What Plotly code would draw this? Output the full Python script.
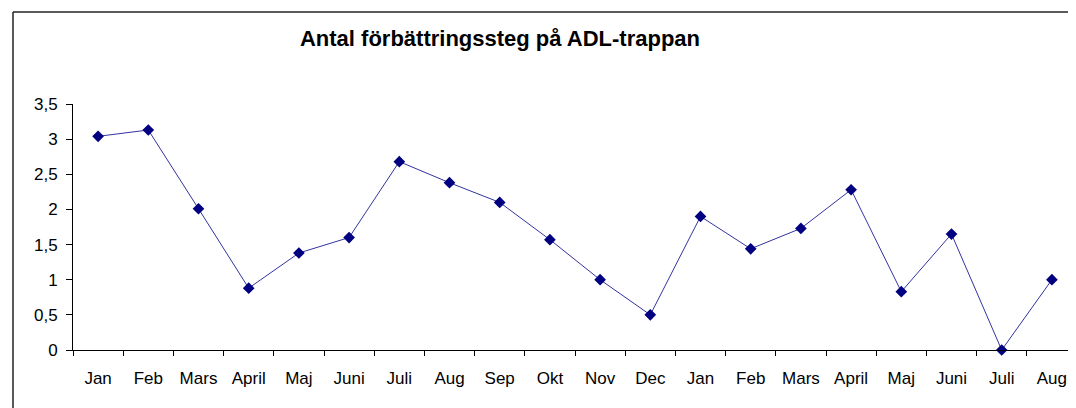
import plotly.graph_objects as go

months = ["Jan", "Feb", "Mars", "April", "Maj", "Juni", "Juli", "Aug", "Sep", "Okt",
          "Nov", "Dec", "Jan", "Feb", "Mars", "April", "Maj", "Juni", "Juli", "Aug"]
values = [3.04, 3.13, 2.01, 0.88, 1.38, 1.60, 2.68, 2.38, 2.10, 1.57,
          1.00, 0.50, 1.90, 1.44, 1.73, 2.28, 0.83, 1.65, 0.00, 1.00]
y_ticks = [0, 0.5, 1, 1.5, 2, 2.5, 3, 3.5]
y_tick_text = ["0", "0,5", "1", "1,5", "2", "2,5", "3", "3,5"]

positions = list(range(len(months)))

fig = go.Figure()
fig.add_trace(go.Scatter(
    x=positions, y=values, mode="lines+markers",
    line=dict(color="#3333a0", width=1),
    marker=dict(symbol="diamond", size=9, color="#000080"),
    cliponaxis=False, showlegend=False,
))

# page has an 8px body margin; figure drawn at offset (8, 8)
OFF = 8
W, H = 1076 - OFF, 408 - OFF
L, R, T = 73 - OFF, 0, 104 - OFF
B = H - (350 - OFF)
pw, ph = W - L - R, H - T - B

fig.update_layout(
    width=W, height=H,
    margin=dict(l=L, r=R, t=T, b=B, pad=0),
    paper_bgcolor="white", plot_bgcolor="white",
    font=dict(family="Liberation Sans, Arial", size=17, color="#000000"),
    title=dict(text="<b>Antal förbättringssteg på ADL-trappan</b>",
               x=(500 - OFF) / W, xanchor="center", y=1 - (38 - OFF) / H, yanchor="middle",
               font=dict(size=22, color="#000000")),
    xaxis=dict(
        range=[-0.5, -0.5 + pw / 50.2], tickmode="array", tickvals=positions,
        ticktext=months, ticks="", showgrid=False, zeroline=False,
        showline=True, linecolor="#000000", linewidth=1, ticklabelstandoff=13,
        minor=dict(tickmode="linear", tick0=0.5, dtick=1, ticks="outside",
                   ticklen=5, tickcolor="#000000", showgrid=False),
        fixedrange=True,
    ),
    yaxis=dict(
        range=[0, 3.5], tickmode="array", tickvals=y_ticks, ticktext=y_tick_text,
        ticks="outside", ticklen=6, tickcolor="#000000", showgrid=False,
        zeroline=False, showline=True, linecolor="#000000", linewidth=1,
        ticklabelstandoff=5, fixedrange=True,
    ),
)

# outer chart border (left and top edges visible)
bx = (13 - 73) / pw
by = (350 - 12) / ph
fig.add_shape(type="line", xref="paper", yref="paper", x0=bx, x1=1.05, y0=by, y1=by,
              line=dict(color="#222222", width=1.5))
fig.add_shape(type="line", xref="paper", yref="paper", x0=bx, x1=bx, y0=by, y1=-0.4,
              line=dict(color="#222222", width=1.5))

fig.write_html("out.html")
